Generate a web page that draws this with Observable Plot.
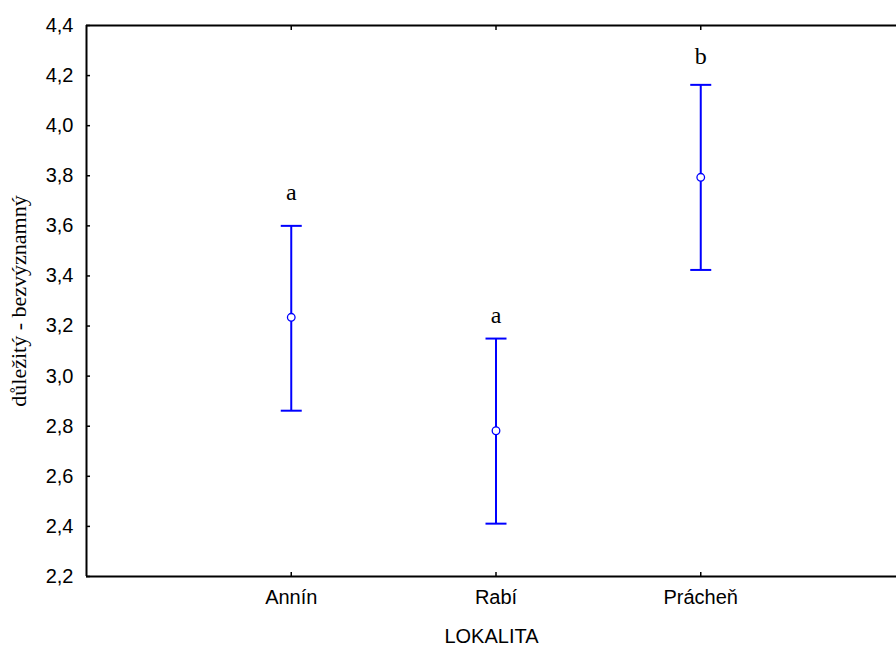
<!DOCTYPE html>
<html>
<head>
<meta charset="utf-8">
<script src="https://cdn.jsdelivr.net/npm/d3@7"></script>
<script src="https://cdn.jsdelivr.net/npm/@observablehq/plot@0.6"></script>
<style>
  html, body { margin: 0; padding: 0; background: #fff; overflow: hidden; }
  #chart { width: 896px; height: 646px; overflow: hidden; }
</style>
</head>
<body>
<div id="chart"></div>
<script>
const categories = ["Annín", "Rabí", "Prácheň"];
const means = [3.235, 2.782, 3.794];
const lower = [2.862, 2.411, 3.424];
const upper = [3.600, 3.150, 4.163];
const letters = ["a", "a", "b"];
const letterY = [3.735, 3.242, 4.275];
const yTicks = [2.2, 2.4, 2.6, 2.8, 3.0, 3.2, 3.4, 3.6, 3.8, 4.0, 4.2, 4.4];
const xTicks = [1, 2, 3];
const yTitle = "důležitý - bezvýznamný";
const xTitle = "LOKALITA";

const data = categories.map((c, i) => ({
  pos: i + 1, name: c, mean: means[i], lo: lower[i], hi: upper[i],
  letter: letters[i], ly: letterY[i]
}));

const blue = "#0000ff";
const capSymbol = {
  draw(ctx) { ctx.moveTo(-10.5, 0); ctx.lineTo(10.5, 0); }
};
const fmt = d => d.toFixed(1).replace(".", ",");
const sans = "'Liberation Sans', Arial, sans-serif";
const serif = "'Liberation Serif', 'Times New Roman', serif";

const chart = Plot.plot({
  width: 896,
  height: 646,
  marginLeft: 86,
  marginTop: 25,
  marginBottom: 70,
  marginRight: 0,
  style: { fontFamily: sans, fontSize: "20px", color: "#000", background: "#fff", overflow: "hidden" },
  x: { domain: [0, 4], range: [86, 905] },
  y: { domain: [2.2, 4.4], range: [576, 25] },
  marks: [
    Plot.axisY({ ticks: yTicks, tickSize: -4, text: null, label: null, strokeWidth: 1.5 }),
    Plot.axisY({ ticks: yTicks, tickSize: 0, tickPadding: 13, tickFormat: fmt, fontSize: 20, label: null }),
    Plot.text([yTitle], { frameAnchor: "left", textAnchor: "middle", dx: -68, rotate: -90,
      fontFamily: serif, fontSize: 22, fill: "#000" }),
    Plot.axisX({ anchor: "bottom", ticks: xTicks, tickSize: -4, text: null, label: null, strokeWidth: 1.5 }),
    Plot.axisX({ anchor: "top", ticks: xTicks, tickSize: -4, text: null, label: null, strokeWidth: 1.5 }),
    Plot.axisX({ anchor: "bottom", ticks: xTicks, tickSize: 0, tickPadding: 13, fontSize: 20,
      tickFormat: i => categories[i - 1],
      label: xTitle, labelAnchor: "center", labelArrow: "none", labelOffset: 66 }),
    Plot.ruleX([0], { stroke: "#000", strokeWidth: 2 }),
    Plot.ruleY([2.2, 4.4], { stroke: "#000", strokeWidth: 2 }),
    Plot.ruleX(data, { x: "pos", y1: "lo", y2: "hi", stroke: blue, strokeWidth: 2 }),
    Plot.dot(data, { x: "pos", y: "lo", symbol: capSymbol, r: 5, stroke: blue, strokeWidth: 2, fill: "none" }),
    Plot.dot(data, { x: "pos", y: "hi", symbol: capSymbol, r: 5, stroke: blue, strokeWidth: 2, fill: "none" }),
    Plot.dot(data, { x: "pos", y: "mean", r: 3.8, stroke: blue, strokeWidth: 1.3, fill: "#fff" }),
    Plot.text(data, { x: "pos", y: "ly", text: "letter", fill: "#000", fontFamily: serif, fontSize: 24 })
  ]
});

document.getElementById("chart").appendChild(chart);
</script>
</body>
</html>
